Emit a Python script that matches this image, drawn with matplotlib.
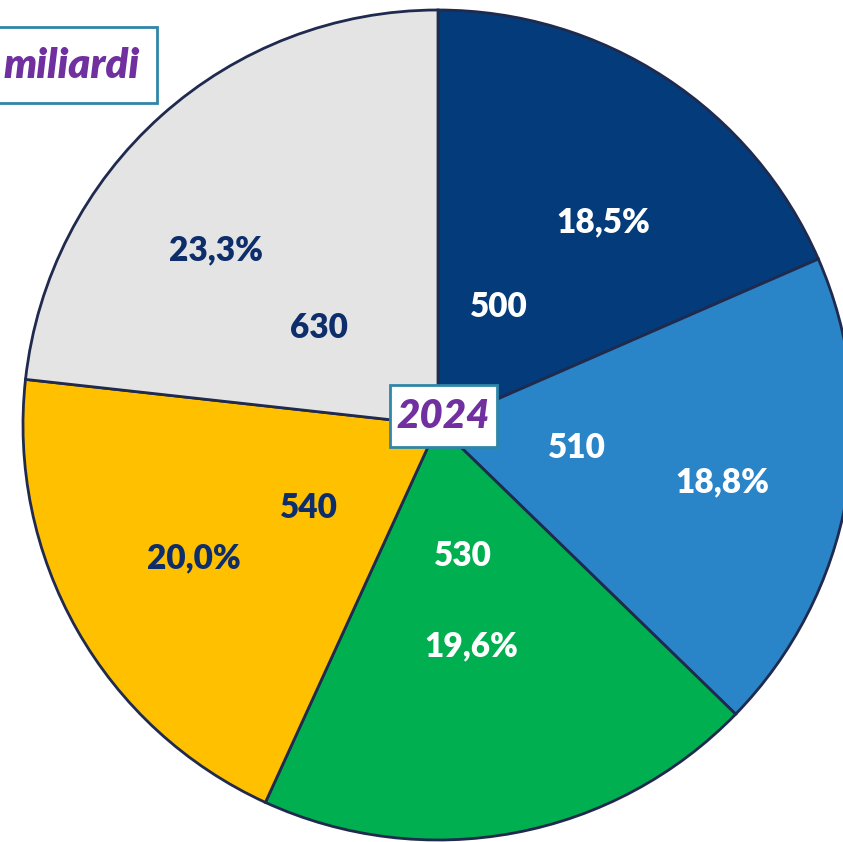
import matplotlib
matplotlib.use('Agg')

import matplotlib.pyplot as plt
from matplotlib.patches import Rectangle
import numpy as np

plt.rcParams['font.family'] = ['Lato', 'DejaVu Sans']

# values in miliardi, 2024 (clockwise from the top)
values = [500, 510, 530, 540, 630]
pct_labels = ['18,5%', '18,8%', '19,6%', '20,0%', '23,3%']
colors = ['#043C7B', '#2A84C8', '#00B050', '#FFC000', '#E4E4E4']
text_colors = ['white', 'white', 'white', '#0E2D6B', '#0E2D6B']
year = '2024'
unit = 'miliardi'

# label placement (fraction of radius, angle shift in degrees)
pct_dist = [0.63, 0.70, 0.54, 0.67, 0.68]
pct_shift = [-6, -1, -2, -1, 10]
val_dist = [0.32, 0.34, 0.32, 0.37, 0.37]
val_shift = [6, 1, 0, 3, 9]

W, H = 843, 842
fig = plt.figure(figsize=(W / 100, H / 100), dpi=100)
ax = fig.add_axes([0, 0, 1, 1])

# pie center and radius in pixels
cx, cy, R = 438, 425, 415

wedges, pcts, vals = ax.pie(values, colors=colors, startangle=90, counterclock=False,
                            labels=pct_labels,
                            autopct=lambda p: '%d' % round(p * sum(values) / 100.0),
                            wedgeprops=dict(edgecolor='#1F2A4E', linewidth=2))

for i, w in enumerate(wedges):
    mid = 0.5 * (w.theta1 + w.theta2)
    a = np.deg2rad(mid + pct_shift[i])
    pcts[i].set_position((pct_dist[i] * np.cos(a), pct_dist[i] * np.sin(a)))
    a = np.deg2rad(mid + val_shift[i])
    vals[i].set_position((val_dist[i] * np.cos(a), val_dist[i] * np.sin(a)))

for t, c in zip(list(pcts) + list(vals), text_colors * 2):
    t.set_ha('center')
    t.set_va('center')
    t.set_color(c)
    t.set_fontsize(24)
    t.set_fontweight('heavy')

ax.set_xlim(-cx / R, (W - cx) / R)
ax.set_ylim(-(H - cy) / R, cy / R)
ax.set_aspect('auto')
ax.axis('off')

# year box in the middle
ax.add_patch(Rectangle((390 / W, 1 - 447 / H), 107 / W, 62 / H, transform=ax.transAxes,
                       facecolor='white', edgecolor='#2F86A8', linewidth=2, zorder=5))
ax.text(443 / W, 1 - 417 / H, year, transform=ax.transAxes, ha='center', va='center',
        fontsize=29, fontweight='heavy', fontstyle='italic', color='#7030A0', zorder=6)

# unit box top-left (runs off the edge)
ax.add_patch(Rectangle((-20 / W, 1 - 103 / H), 177 / W, 76 / H, transform=ax.transAxes,
                       facecolor='white', edgecolor='#2F86A8', linewidth=2, zorder=5,
                       clip_on=False))
ax.text(4 / W, 1 - 66 / H, unit, transform=ax.transAxes, ha='left', va='center',
        fontsize=30, fontweight='heavy', fontstyle='italic', color='#7030A0', zorder=6)

fig.savefig('out.png', dpi=100)
